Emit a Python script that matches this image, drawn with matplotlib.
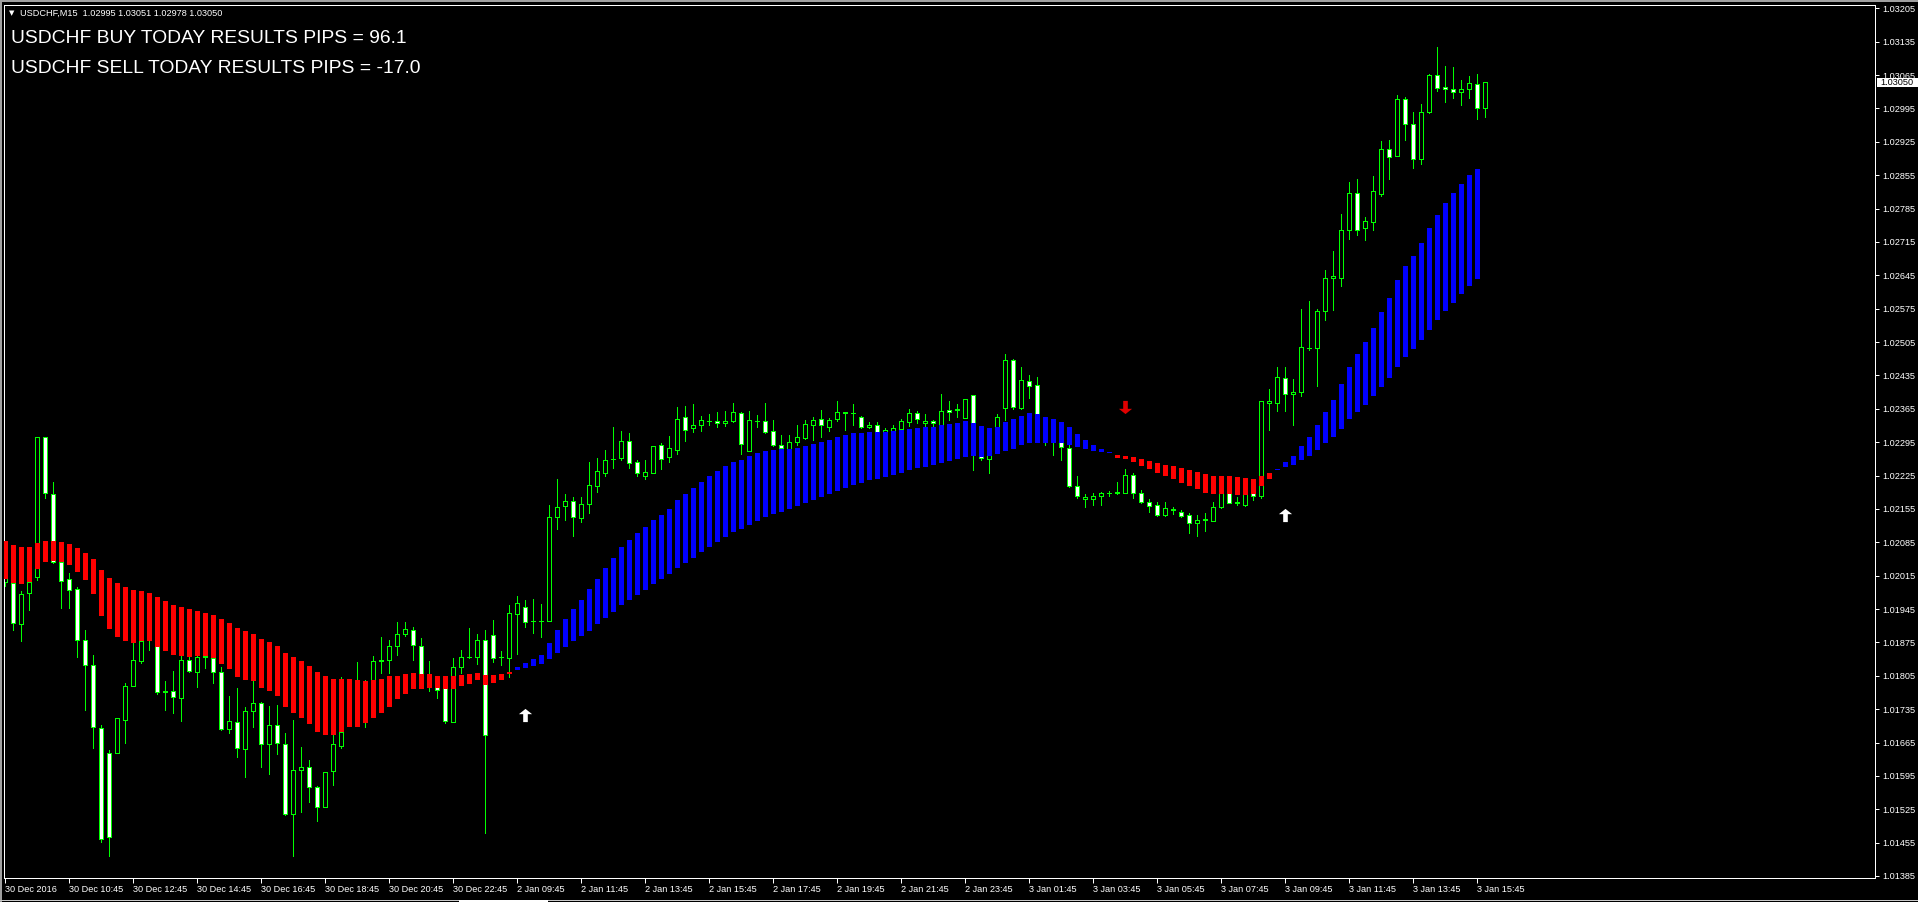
import matplotlib
matplotlib.use('Agg')
import matplotlib.pyplot as plt
import matplotlib.transforms as mtransforms
from matplotlib.path import Path
from matplotlib.patches import Rectangle
import numpy as np

# ---------------- data (USDCHF M15) ----------------
open_ = [
1.02002, 1.02000, 1.01913, 1.01978, 1.02013, 1.02305, 1.02186, 1.02044, 1.02007, 1.01986,
1.01879, 1.01827, 1.01695, 1.01642, 1.01642, 1.01713, 1.01784, 1.01837, 1.01880, 1.01873,
1.01772, 1.01772, 1.01758, 1.01838, 1.01813, 1.01844, 1.01843, 1.01812, 1.01693, 1.01709,
1.01651, 1.01732, 1.01747, 1.01662, 1.01701, 1.01662, 1.01514, 1.01607, 1.01614, 1.01572,
1.01529, 1.01605, 1.01658, 1.01712, 1.01782, 1.01789, 1.01782, 1.01837, 1.01838, 1.01867,
1.01892, 1.01902, 1.01867, 1.01803, 1.01789, 1.01782, 1.01709, 1.01823, 1.01844, 1.01845,
1.01881, 1.01890, 1.01844, 1.01843, 1.01934, 1.01949, 1.01920, 1.01920, 1.01920, 1.02137,
1.02162, 1.02171, 1.02135, 1.02165, 1.02202, 1.02231, 1.02259, 1.02262, 1.02297, 1.02253,
1.02223, 1.02231, 1.02289, 1.02264, 1.02279, 1.02347, 1.02324, 1.02330, 1.02339, 1.02339,
1.02335, 1.02339, 1.02356, 1.02277, 1.02339, 1.02339, 1.02318, 1.02288, 1.02280, 1.02296,
1.02304, 1.02330, 1.02343, 1.02326, 1.02343, 1.02357, 1.02356, 1.02347, 1.02326, 1.02332,
1.02317, 1.02319, 1.02323, 1.02338, 1.02356, 1.02335, 1.02339, 1.02332, 1.02362, 1.02363,
1.02346, 1.02393, 1.02300, 1.02260, 1.02320, 1.02367, 1.02467, 1.02366, 1.02423, 1.02414,
1.02331, 1.02316, 1.02304, 1.02282, 1.02202, 1.02175, 1.02175, 1.02182, 1.02188, 1.02189,
1.02189, 1.02226, 1.02189, 1.02170, 1.02163, 1.02142, 1.02153, 1.02149, 1.02142, 1.02125,
1.02132, 1.02130, 1.02158, 1.02199, 1.02168, 1.02163, 1.02199, 1.02183, 1.02377, 1.02377,
1.02429, 1.02395, 1.02401, 1.02492, 1.02492, 1.02570, 1.02640, 1.02640, 1.02741, 1.02817,
1.02744, 1.02757, 1.02816, 1.02910, 1.02896, 1.03015, 1.02962, 1.02888, 1.02988, 1.03065,
1.03039, 1.03035, 1.03030, 1.03035, 1.03046, 1.02995]

high = [
1.02016, 1.02006, 1.01983, 1.02013, 1.02305, 1.02305, 1.02211, 1.02048, 1.02020, 1.01991,
1.01902, 1.01848, 1.01702, 1.01649, 1.01716, 1.01789, 1.01874, 1.01894, 1.01894, 1.01894,
1.01794, 1.01815, 1.01846, 1.01844, 1.01852, 1.01852, 1.01852, 1.01824, 1.01763, 1.01780,
1.01740, 1.01793, 1.01751, 1.01742, 1.01744, 1.01684, 1.01712, 1.01656, 1.01628, 1.01574,
1.01603, 1.01688, 1.01802, 1.01796, 1.01833, 1.01796, 1.01846, 1.01886, 1.01879, 1.01918,
1.01918, 1.01908, 1.01884, 1.01837, 1.01803, 1.01789, 1.01843, 1.01858, 1.01905, 1.01892,
1.01902, 1.01922, 1.01857, 1.01953, 1.01972, 1.01964, 1.01967, 1.01956, 1.02163, 1.02217,
1.02186, 1.02181, 1.02179, 1.02253, 1.02261, 1.02279, 1.02327, 1.02319, 1.02314, 1.02258,
1.02258, 1.02287, 1.02293, 1.02308, 1.02369, 1.02371, 1.02375, 1.02350, 1.02354, 1.02358,
1.02360, 1.02377, 1.02358, 1.02360, 1.02351, 1.02377, 1.02341, 1.02310, 1.02310, 1.02331,
1.02341, 1.02348, 1.02362, 1.02345, 1.02381, 1.02359, 1.02374, 1.02350, 1.02337, 1.02337,
1.02324, 1.02331, 1.02344, 1.02365, 1.02360, 1.02354, 1.02342, 1.02395, 1.02381, 1.02375,
1.02385, 1.02393, 1.02308, 1.02321, 1.02354, 1.02480, 1.02469, 1.02452, 1.02436, 1.02432,
1.02341, 1.02331, 1.02321, 1.02289, 1.02224, 1.02186, 1.02188, 1.02191, 1.02193, 1.02211,
1.02238, 1.02230, 1.02195, 1.02175, 1.02170, 1.02170, 1.02158, 1.02153, 1.02146, 1.02142,
1.02147, 1.02170, 1.02205, 1.02205, 1.02181, 1.02205, 1.02205, 1.02381, 1.02406, 1.02452,
1.02452, 1.02428, 1.02574, 1.02591, 1.02574, 1.02656, 1.02696, 1.02774, 1.02841, 1.02848,
1.02767, 1.02853, 1.02927, 1.02929, 1.03023, 1.03020, 1.02988, 1.03004, 1.03067, 1.03123,
1.03084, 1.03081, 1.03055, 1.03063, 1.03067, 1.03051]

low = [
1.01994, 1.01901, 1.01877, 1.01943, 1.02006, 1.02178, 1.02041, 1.01948, 1.01948, 1.01845,
1.01733, 1.01654, 1.01457, 1.01426, 1.01642, 1.01663, 1.01784, 1.01832, 1.01859, 1.01767,
1.01733, 1.01726, 1.01711, 1.01813, 1.01782, 1.01821, 1.01789, 1.01691, 1.01684, 1.01635,
1.01593, 1.01698, 1.01614, 1.01598, 1.01640, 1.01513, 1.01426, 1.01520, 1.01541, 1.01501,
1.01529, 1.01576, 1.01654, 1.01702, 1.01747, 1.01697, 1.01768, 1.01810, 1.01810, 1.01849,
1.01888, 1.01838, 1.01800, 1.01772, 1.01759, 1.01706, 1.01709, 1.01811, 1.01843, 1.01830,
1.01476, 1.01834, 1.01828, 1.01802, 1.01850, 1.01908, 1.01894, 1.01887, 1.01920, 1.02112,
1.02132, 1.02099, 1.02128, 1.02147, 1.02190, 1.02223, 1.02241, 1.02258, 1.02241, 1.02223,
1.02218, 1.02231, 1.02239, 1.02253, 1.02270, 1.02298, 1.02317, 1.02319, 1.02331, 1.02327,
1.02329, 1.02338, 1.02270, 1.02277, 1.02327, 1.02315, 1.02287, 1.02279, 1.02279, 1.02290,
1.02301, 1.02300, 1.02306, 1.02319, 1.02340, 1.02320, 1.02331, 1.02325, 1.02325, 1.02316,
1.02315, 1.02318, 1.02322, 1.02329, 1.02335, 1.02327, 1.02327, 1.02330, 1.02341, 1.02348,
1.02346, 1.02237, 1.02258, 1.02231, 1.02316, 1.02341, 1.02365, 1.02365, 1.02388, 1.02325,
1.02289, 1.02268, 1.02258, 1.02201, 1.02178, 1.02160, 1.02163, 1.02163, 1.02183, 1.02186,
1.02189, 1.02178, 1.02167, 1.02149, 1.02140, 1.02140, 1.02144, 1.02139, 1.02105, 1.02099,
1.02109, 1.02130, 1.02157, 1.02167, 1.02163, 1.02161, 1.02174, 1.02177, 1.02320, 1.02361,
1.02361, 1.02330, 1.02392, 1.02488, 1.02413, 1.02551, 1.02572, 1.02623, 1.02721, 1.02730,
1.02719, 1.02740, 1.02812, 1.02847, 1.02895, 1.02929, 1.02871, 1.02878, 1.02985, 1.03032,
1.03009, 1.03016, 1.03002, 1.03016, 1.02973, 1.02978]

close = [
1.02013, 1.01915, 1.01977, 1.02002, 1.02305, 1.02188, 1.02044, 1.02004, 1.01984, 1.01880,
1.01827, 1.01697, 1.01462, 1.01466, 1.01716, 1.01783, 1.01838, 1.01877, 1.01884, 1.01770,
1.01771, 1.01760, 1.01838, 1.01815, 1.01845, 1.01846, 1.01812, 1.01693, 1.01711, 1.01653,
1.01732, 1.01747, 1.01662, 1.01701, 1.01663, 1.01514, 1.01607, 1.01614, 1.01571, 1.01529,
1.01603, 1.01662, 1.01688, 1.01782, 1.01793, 1.01740, 1.01837, 1.01838, 1.01867, 1.01892,
1.01904, 1.01869, 1.01803, 1.01789, 1.01775, 1.01711, 1.01823, 1.01844, 1.01844, 1.01881,
1.01681, 1.01842, 1.01844, 1.01936, 1.01957, 1.01918, 1.01920, 1.01920, 1.02139, 1.02158,
1.02171, 1.02137, 1.02165, 1.02205, 1.02234, 1.02257, 1.02260, 1.02297, 1.02252, 1.02231,
1.02232, 1.02287, 1.02260, 1.02282, 1.02344, 1.02321, 1.02331, 1.02341, 1.02340, 1.02335,
1.02339, 1.02358, 1.02292, 1.02341, 1.02339, 1.02317, 1.02288, 1.02282, 1.02295, 1.02306,
1.02333, 1.02341, 1.02330, 1.02341, 1.02358, 1.02358, 1.02357, 1.02326, 1.02331, 1.02317,
1.02320, 1.02324, 1.02339, 1.02356, 1.02343, 1.02339, 1.02335, 1.02360, 1.02358, 1.02364,
1.02385, 1.02300, 1.02262, 1.02300, 1.02347, 1.02467, 1.02369, 1.02425, 1.02413, 1.02331,
1.02320, 1.02304, 1.02284, 1.02202, 1.02183, 1.02181, 1.02182, 1.02188, 1.02189, 1.02190,
1.02226, 1.02189, 1.02170, 1.02162, 1.02142, 1.02156, 1.02154, 1.02141, 1.02125, 1.02132,
1.02133, 1.02158, 1.02195, 1.02168, 1.02169, 1.02195, 1.02183, 1.02381, 1.02381, 1.02431,
1.02395, 1.02400, 1.02494, 1.02493, 1.02570, 1.02639, 1.02644, 1.02741, 1.02817, 1.02741,
1.02759, 1.02821, 1.02910, 1.02894, 1.03015, 1.02962, 1.02888, 1.02987, 1.03065, 1.03037,
1.03035, 1.03030, 1.03035, 1.03048, 1.02995, 1.03050]

# smoothed Heiken-Ashi style indicator (open / close)
ha_open = [
1.02088, 1.02079, 1.02075, 1.02075, 1.02083, 1.02088, 1.02088, 1.02086, 1.02081, 1.02073,
1.02062, 1.02050, 1.02027, 1.02010, 1.02000, 1.01991, 1.01985, 1.01983, 1.01979, 1.01970,
1.01962, 1.01953, 1.01949, 1.01945, 1.01941, 1.01937, 1.01932, 1.01924, 1.01916, 1.01905,
1.01899, 1.01893, 1.01882, 1.01876, 1.01867, 1.01853, 1.01844, 1.01836, 1.01825, 1.01813,
1.01804, 1.01798, 1.01798, 1.01798, 1.01797, 1.01794, 1.01796, 1.01798, 1.01805, 1.01805,
1.01809, 1.01811, 1.01809, 1.01809, 1.01804, 1.01804, 1.01804, 1.01807, 1.01809, 1.01811,
1.01807, 1.01807, 1.01809, 1.01813,
1.01817, 1.01822, 1.01825, 1.01830, 1.01840, 1.01852,
1.01865, 1.01877, 1.01888, 1.01899, 1.01914, 1.01927, 1.01939, 1.01953, 1.01964, 1.01974,
1.01985, 1.01997, 1.02008, 1.02018, 1.02032, 1.02041, 1.02053, 1.02065, 1.02075, 1.02086,
1.02096, 1.02107, 1.02113, 1.02121, 1.02130, 1.02138, 1.02144, 1.02148, 1.02155, 1.02161,
1.02167, 1.02174, 1.02180, 1.02186, 1.02193, 1.02199, 1.02205, 1.02209, 1.02216, 1.02218,
1.02222, 1.02226, 1.02230, 1.02237, 1.02241, 1.02243, 1.02247, 1.02251, 1.02255, 1.02260,
1.02264, 1.02266, 1.02264, 1.02266, 1.02271, 1.02277, 1.02281, 1.02288, 1.02293, 1.02293,
1.02293, 1.02293, 1.02293, 1.02289, 1.02285, 1.02281, 1.02277, 1.02274, 1.02272,
1.02268, 1.02266, 1.02263, 1.02260, 1.02255, 1.02252, 1.02247, 1.02245, 1.02241, 1.02237,
1.02233, 1.02228, 1.02225, 1.02224, 1.02223, 1.02221, 1.02220, 1.02218, 1.02224, 1.02231,
1.02237, 1.02243, 1.02247, 1.02258, 1.02266, 1.02279, 1.02293, 1.02305, 1.02322, 1.02343,
1.02359, 1.02373, 1.02392, 1.02411, 1.02430, 1.02452, 1.02473, 1.02490, 1.02509, 1.02530,
1.02551, 1.02570, 1.02586, 1.02606, 1.02623, 1.02637]

ha_close = [
1.02007, 1.02000, 1.01998, 1.02002, 1.02029, 1.02044, 1.02046, 1.02044, 1.02037, 1.02023,
1.02006, 1.01977, 1.01931, 1.01903, 1.01886, 1.01877, 1.01874, 1.01877, 1.01877, 1.01866,
1.01857, 1.01849, 1.01846, 1.01845, 1.01846, 1.01846, 1.01843, 1.01830, 1.01820, 1.01803,
1.01797, 1.01793, 1.01780, 1.01774, 1.01763, 1.01740, 1.01727, 1.01717, 1.01704, 1.01688,
1.01680, 1.01680, 1.01688, 1.01698, 1.01698, 1.01705, 1.01717, 1.01727, 1.01740, 1.01756,
1.01767, 1.01777, 1.01778, 1.01780, 1.01780, 1.01778, 1.01778, 1.01784, 1.01788, 1.01797,
1.01786, 1.01790, 1.01796, 1.01809,
1.01824, 1.01831, 1.01840, 1.01849, 1.01873, 1.01901,
1.01924, 1.01945, 1.01964, 1.01987, 1.02008, 1.02031, 1.02052, 1.02075, 1.02090, 1.02104,
1.02116, 1.02132, 1.02142, 1.02155, 1.02174, 1.02186, 1.02199, 1.02211, 1.02224, 1.02234,
1.02245, 1.02253, 1.02258, 1.02266, 1.02272, 1.02276, 1.02279, 1.02281, 1.02281, 1.02283,
1.02287, 1.02291, 1.02295, 1.02300, 1.02306, 1.02310, 1.02314, 1.02314, 1.02316, 1.02316,
1.02317, 1.02319, 1.02320, 1.02323, 1.02325, 1.02327, 1.02327, 1.02331, 1.02333, 1.02335,
1.02339, 1.02335, 1.02329, 1.02325, 1.02327, 1.02338, 1.02344, 1.02350, 1.02356, 1.02354,
1.02347, 1.02343, 1.02337, 1.02326, 1.02312, 1.02300, 1.02288, 1.02280, 1.02274,
1.02262, 1.02260, 1.02254, 1.02246, 1.02238, 1.02230, 1.02223, 1.02217, 1.02210, 1.02202,
1.02196, 1.02189, 1.02186, 1.02186, 1.02186, 1.02184, 1.02184, 1.02186, 1.02202, 1.02218,
1.02239, 1.02254, 1.02266, 1.02287, 1.02306, 1.02331, 1.02359, 1.02383, 1.02417, 1.02452,
1.02480, 1.02506, 1.02534, 1.02567, 1.02598, 1.02635, 1.02664, 1.02685, 1.02712, 1.02744,
1.02771, 1.02796, 1.02817, 1.02836, 1.02855, 1.02867]

# signal arrows (bar index, price)
buy_idx = [65, 160]
buy_price = [1.01723, 1.02142]
sell_idx = [140]
sell_price = [1.02369]

time_tick_idx = [0, 8, 16, 24, 32, 40, 48, 56, 64, 72, 80, 88, 96, 104, 112, 120,
                 128, 136, 144, 152, 160, 168, 176, 184]
time_labels = ["30 Dec 2016", "30 Dec 10:45", "30 Dec 12:45", "30 Dec 14:45",
               "30 Dec 16:45", "30 Dec 18:45", "30 Dec 20:45", "30 Dec 22:45",
               "2 Jan 09:45", "2 Jan 11:45", "2 Jan 13:45", "2 Jan 15:45",
               "2 Jan 17:45", "2 Jan 19:45", "2 Jan 21:45", "2 Jan 23:45",
               "3 Jan 01:45", "3 Jan 03:45", "3 Jan 05:45", "3 Jan 07:45",
               "3 Jan 09:45", "3 Jan 11:45", "3 Jan 13:45", "3 Jan 15:45"]
price_ticks = [1.01385, 1.01455, 1.01525, 1.01595, 1.01665, 1.01735, 1.01805,
               1.01875, 1.01945, 1.02015, 1.02085, 1.02155, 1.02225, 1.02295,
               1.02365, 1.02435, 1.02505, 1.02575, 1.02645, 1.02715, 1.02785,
               1.02855, 1.02925, 1.02995, 1.03065, 1.03135, 1.03205]

symbol_line = "USDCHF,M15  1.02995 1.03051 1.02978 1.03050"
buy_text = "USDCHF BUY TODAY RESULTS PIPS = 96.1"
sell_text = "USDCHF SELL TODAY RESULTS PIPS = -17.0"

# ---------------- drawing ----------------
W, H = 1918, 902
PX = 0.72  # one pixel in points at 100 dpi
plt.rcParams['font.family'] = ['Liberation Sans', 'DejaVu Sans']
fig = plt.figure(figsize=(W / 100, H / 100), dpi=100, facecolor='black')
ax = fig.add_axes([4 / W, 1 - 878 / H, (1875 - 4) / W, (878 - 4.7) / H])
ax.set_facecolor('black')

o = np.array(open_); hi = np.array(high); lo = np.array(low); c = np.array(close)
x = np.arange(len(o))
bull = c >= o
GREEN = '#00ff00'

ax.vlines(x, lo, hi, color=GREEN, lw=PX, zorder=1, antialiased=False)
ax.bar(x, c - o, bottom=o, width=0.5, color=np.where(bull, 'black', 'white'),
       edgecolor=GREEN, linewidth=PX, zorder=2, antialiased=False)

ho = np.array(ha_open); hc = np.array(ha_close)
xh = np.arange(len(ho))
ha_col = np.where(hc > ho, '#0000ff', '#ff0000')
ax.bar(xh, hc - ho, bottom=ho, width=0.64, color=ha_col, linewidth=0,
       zorder=3, antialiased=False)

# arrow markers
up_arrow = Path([(0, 1), (1, 0.2), (0.35, 0.2), (0.35, -1), (-0.35, -1),
                 (-0.35, 0.2), (-1, 0.2), (0, 1)])
down_arrow = Path([(0, -1), (1, -0.2), (0.35, -0.2), (0.35, 1), (-0.35, 1),
                   (-0.35, -0.2), (-1, -0.2), (0, -1)])
ax.plot(buy_idx, buy_price, linestyle='none', marker=up_arrow, markersize=9.5,
        color='white', markeredgewidth=0, zorder=5)
ax.plot(sell_idx, sell_price, linestyle='none', marker=down_arrow, markersize=9.5,
        color='#e00000', markeredgewidth=0, zorder=5)

ax.set_xlim(-0.1625, 233.71)
ax.set_ylim(1.013808, 1.032126)

for s in ax.spines.values():
    s.set_color('white')
    s.set_linewidth(PX)

ax.yaxis.tick_right()
ax.set_yticks(price_ticks)
ax.set_yticklabels([f"{v:.5f}" for v in price_ticks])
ax.tick_params(axis='y', colors='white', length=3, width=PX, labelsize=6.6, pad=2)
ax.set_xticks(time_tick_idx)
ax.set_xticklabels(time_labels, ha='left')
ax.tick_params(axis='x', colors='white', length=3.5, width=PX, labelsize=6.6, pad=1.5)

# current price label
trans = mtransforms.blended_transform_factory(ax.transAxes, ax.transData)
last = close[-1]
ax.add_patch(Rectangle((1.0009, last - 0.000092), 0.0225, 0.000184, transform=trans,
                       facecolor='white', edgecolor='none', clip_on=False, zorder=20))
ax.text(1.0030, last, f"{last:.5f}", transform=trans, ha='left', va='center',
        fontsize=6.6, color='black', zorder=21, clip_on=False)

# header texts
fig.text(12 / W, 1 - 13.5 / H, '\u25BC', fontsize=5, color='white', va='center',
         ha='center', family='DejaVu Sans')
fig.text(20 / W, 1 - 13 / H, symbol_line, fontsize=6.6, color='white', va='center')
fig.text(11 / W, 1 - 43.3 / H, buy_text, fontsize=13.9, color='white', va='baseline')
fig.text(11 / W, 1 - 73.3 / H, sell_text, fontsize=13.9, color='white', va='baseline')

# window frame decorations
fig.add_artist(Rectangle((0, 1 - 1.5 / H), 1, 1.5 / H, transform=fig.transFigure,
                         facecolor='#a0a0a0', edgecolor='none'))
fig.add_artist(Rectangle((0, 0), 2 / W, 1, transform=fig.transFigure,
                         facecolor='#a0a0a0', edgecolor='none'))
fig.add_artist(Rectangle((0, 1 / H), 1, 1 / H, transform=fig.transFigure,
                         facecolor='#c8c8c8', edgecolor='none'))
fig.add_artist(Rectangle((459 / W, 0.5 / H), 89 / W, 2 / H, transform=fig.transFigure,
                         facecolor='white', edgecolor='none'))

fig.savefig('out.png', dpi=100, facecolor='black')
